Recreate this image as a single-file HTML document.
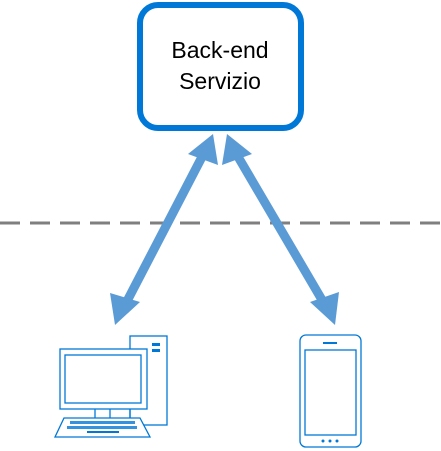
<html><body style="margin:0;background:#fff">
<svg width="441" height="451" xmlns="http://www.w3.org/2000/svg">
<rect x="140" y="5" width="161" height="123" rx="18" fill="#fff" stroke="#0078d7" stroke-width="6"/>
<text x="220" y="58" font-family="Liberation Sans, sans-serif" font-size="23" text-anchor="middle">Back-end</text>
<text x="220" y="89" font-family="Liberation Sans, sans-serif" font-size="23" text-anchor="middle">Servizio</text>
<line x1="0" y1="223" x2="441" y2="223" stroke="#7f7f7f" stroke-width="3" stroke-dasharray="20,10"/>
<g stroke="#5b9bd5" stroke-width="9">
<line x1="203" y1="155" x2="125" y2="305"/>
<line x1="237" y1="155" x2="325" y2="305"/>
</g>
<g fill="#5b9bd5">
<polygon points="213,134 188,154 218,165"/>
<polygon points="115,325 110,293 140,302"/>
<polygon points="227,134 222,165 252,154"/>
<polygon points="335,325 310,302 339,292"/>
</g>
<g fill="none" stroke="#0078d7" stroke-width="1.3">
<rect x="130" y="336" width="37" height="89" fill="#fff"/>
<rect x="60" y="349" width="87" height="60" fill="#fff"/>
<rect x="65" y="355" width="76" height="48"/>
<line x1="95" y1="409" x2="95" y2="418"/><line x1="110" y1="409" x2="110" y2="418"/><line x1="130" y1="409" x2="130" y2="418"/>
<polygon points="64,418 140,418 150,437 55,437" fill="#fff"/>
<rect x="300" y="335" width="61" height="112" rx="6"/>
<rect x="305" y="350" width="51" height="85"/>
</g>
<g fill="#0078d7">
<rect x="152" y="343" width="8" height="3"/><rect x="152" y="349" width="8" height="3"/>
<rect x="70" y="421" width="65" height="3" opacity=".8"/>
<rect x="67" y="426" width="70" height="3" opacity=".8"/>
<rect x="87" y="431" width="32" height="2"/>
<rect x="323" y="342" width="14" height="2"/>
<circle cx="323" cy="441" r="1.5"/><circle cx="330" cy="441" r="1.5"/><circle cx="337" cy="441" r="1.5"/>
</g>
</svg>
</body></html>
